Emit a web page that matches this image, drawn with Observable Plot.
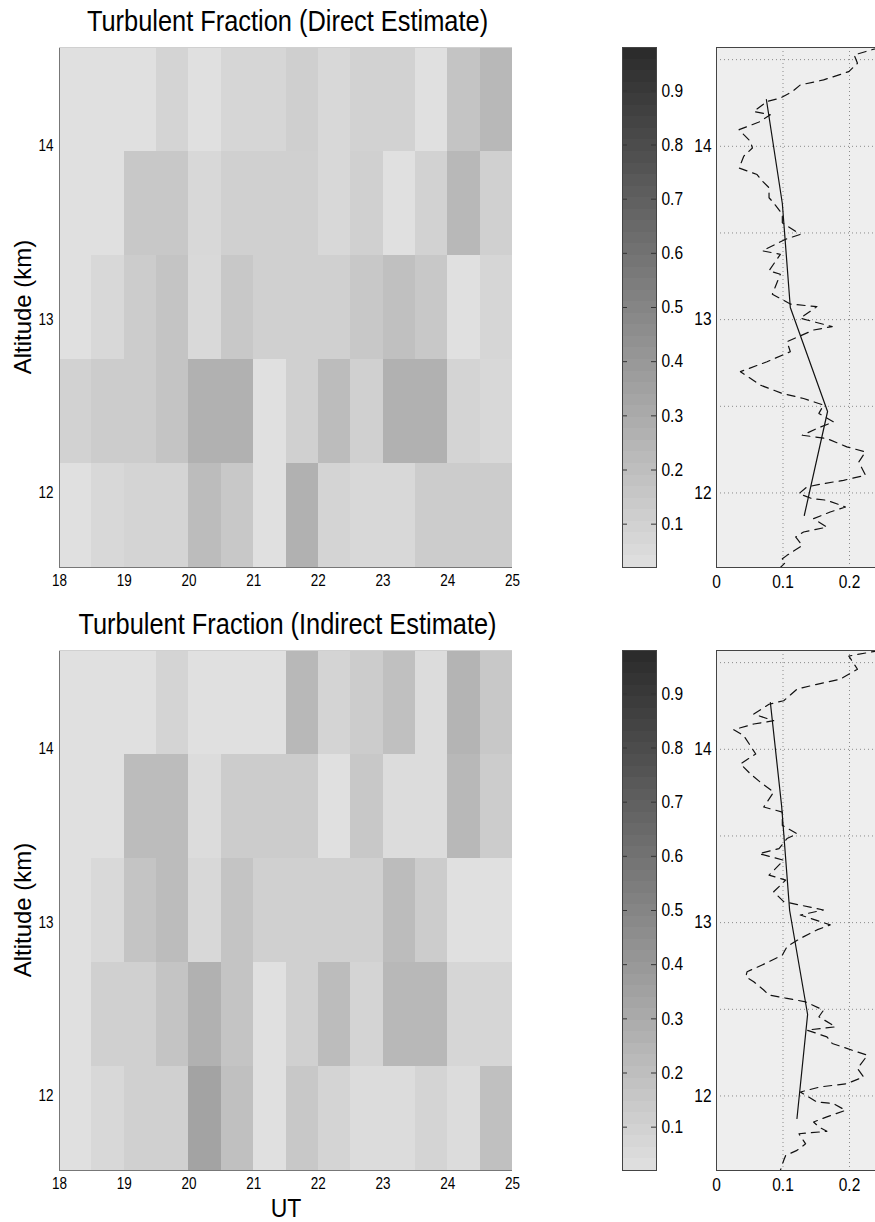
<!DOCTYPE html>
<html>
<head>
<meta charset="utf-8">
<script src="https://cdn.jsdelivr.net/npm/d3@7"></script>
<script src="https://cdn.jsdelivr.net/npm/@observablehq/plot@0.6"></script>
<style>
  html, body { margin: 0; padding: 0; background: #fff; }
  #root { position: relative; width: 875px; height: 1222px; overflow: hidden; background: #fff;
          font-family: "Liberation Sans", Arial, Helvetica, sans-serif; color: #000; }
  .title { position: absolute; left: 0; width: 575px; text-align: center; font-size: 25.4px; line-height: 1;
           white-space: nowrap; transform: scaleY(1.18); transform-origin: 50% 21.5px; }
  .ylab { position: absolute; font-size: 24px; line-height: 1; white-space: nowrap;
          transform: translate(-50%, -50%) rotate(-90deg); }
  .xlab { position: absolute; left: 0; width: 572px; text-align: center; font-size: 23px; line-height: 1;
          transform: scaleY(1.15); transform-origin: 50% 19.5px; }
</style>
</head>
<body>
<div id="root"></div>
<script>
// ---------------- data ----------------
const titles = ["Turbulent Fraction (Direct Estimate)", "Turbulent Fraction (Indirect Estimate)"];
const yLabel = "Altitude (km)";
const xLabel = "UT";

// heat-map bins: UT bin starts (0.5 h wide), altitude bin bottoms (0.6 km tall), top row first
const utStart = [18, 18.5, 19, 19.5, 20, 20.5, 21, 21.5, 22, 22.5, 23, 23.5, 24, 24.5];
const utBinWidth = 0.5;
const altBottom = [13.97, 13.37, 12.77, 12.17, 11.57];
const altBinHeight = 0.6;
const altRange = [11.57, 14.57];
const utRange = [18, 25];

const utTicks = [18, 19, 20, 21, 22, 23, 24, 25];
const altTicks = [12, 13, 14];
const altGrid = [12, 12.5, 13, 13.5, 14, 14.5];
const fracTicks = [0.1, 0.2, 0.3, 0.4, 0.5, 0.6, 0.7, 0.8, 0.9];
const colorRange = [0.02, 0.98];
const colorLevels = 45;
const profileXTicks = [0, 0.1, 0.2];
const profileGridX = [0.1, 0.2];
const profileXRange = [0, 0.3];

// turbulent fraction per cell (rows: top altitude bin first; columns: UT bins)
const directRows = [
  [0.02, 0.02, 0.02, 0.084, 0.02, 0.074, 0.074, 0.11, 0.063, 0.095, 0.095, 0.02, 0.168, 0.23],
  [0.02, 0.02, 0.147, 0.147, 0.063, 0.105, 0.105, 0.105, 0.063, 0.105, 0.02, 0.095, 0.23, 0.105],
  [0.02, 0.063, 0.126, 0.168, 0.058, 0.147, 0.105, 0.105, 0.105, 0.147, 0.19, 0.147, 0.02, 0.074],
  [0.095, 0.126, 0.126, 0.168, 0.27, 0.27, 0.02, 0.105, 0.21, 0.105, 0.27, 0.27, 0.084, 0.063],
  [0.02, 0.063, 0.084, 0.084, 0.21, 0.147, 0.02, 0.27, 0.084, 0.063, 0.063, 0.126, 0.126, 0.126]
];
const indirectRows = [
  [0.02, 0.02, 0.02, 0.084, 0.02, 0.02, 0.02, 0.23, 0.084, 0.126, 0.19, 0.042, 0.25, 0.147],
  [0.02, 0.02, 0.21, 0.21, 0.042, 0.126, 0.126, 0.126, 0.02, 0.147, 0.042, 0.042, 0.23, 0.126],
  [0.02, 0.058, 0.168, 0.21, 0.063, 0.168, 0.105, 0.105, 0.105, 0.105, 0.21, 0.126, 0.02, 0.02],
  [0.02, 0.105, 0.105, 0.168, 0.27, 0.168, 0.02, 0.105, 0.21, 0.084, 0.23, 0.23, 0.074, 0.074],
  [0.02, 0.063, 0.105, 0.105, 0.34, 0.19, 0.02, 0.147, 0.084, 0.042, 0.042, 0.084, 0.042, 0.19]
];

// time-mean profiles (solid line) at altitude-bin centres
const rowCenter = [14.27, 13.67, 13.07, 12.47, 11.87];
const directMean = [0.075, 0.099, 0.111, 0.167, 0.132];
const indirectMean = [0.081, 0.098, 0.110, 0.137, 0.121];

// fine-resolution profiles (dashed line)
const directFineAlt = [14.57, 14.527, 14.479, 14.431, 14.383, 14.354, 14.316, 14.278, 14.259, 14.201, 14.182, 14.14, 14.096, 14.067, 14.029, 13.99, 13.943, 13.875, 13.837, 13.799, 13.761, 13.703, 13.674, 13.607, 13.559, 13.492, 13.464, 13.397, 13.377, 13.282, 13.262, 13.147, 13.09, 13.075, 13.008, 12.96, 12.94, 12.873, 12.815, 12.757, 12.7, 12.622, 12.574, 12.545, 12.507, 12.459, 12.41, 12.372, 12.333, 12.314, 12.266, 12.237, 12.179, 12.102, 12.073, 12.054, 12.035, 11.996, 11.967, 11.958, 11.919, 11.89, 11.852, 11.803, 11.775, 11.746, 11.697, 11.64, 11.62, 11.6, 11.57];
const directFineFrac = [0.245, 0.207, 0.212, 0.199, 0.161, 0.126, 0.114, 0.096, 0.076, 0.056, 0.081, 0.064, 0.034, 0.041, 0.051, 0.054, 0.041, 0.034, 0.061, 0.069, 0.079, 0.079, 0.086, 0.099, 0.099, 0.126, 0.104, 0.069, 0.096, 0.079, 0.096, 0.084, 0.111, 0.151, 0.126, 0.174, 0.146, 0.106, 0.111, 0.076, 0.036, 0.066, 0.099, 0.131, 0.161, 0.154, 0.176, 0.151, 0.129, 0.166, 0.196, 0.224, 0.214, 0.224, 0.191, 0.161, 0.136, 0.124, 0.144, 0.166, 0.194, 0.171, 0.146, 0.166, 0.131, 0.119, 0.129, 0.106, 0.099, 0.104, 0.096];
const indirectFineAlt = [14.57, 14.538, 14.462, 14.404, 14.375, 14.347, 14.28, 14.26, 14.203, 14.165, 14.146, 14.113, 14.079, 13.973, 13.916, 13.858, 13.81, 13.753, 13.667, 13.638, 13.561, 13.513, 13.485, 13.427, 13.398, 13.36, 13.274, 13.245, 13.178, 13.121, 13.073, 13.044, 12.987, 12.958, 12.909, 12.861, 12.813, 12.765, 12.717, 12.688, 12.659, 12.611, 12.582, 12.563, 12.543, 12.495, 12.457, 12.399, 12.38, 12.341, 12.303, 12.264, 12.235, 12.158, 12.11, 12.071, 12.052, 12.023, 11.965, 11.956, 11.917, 11.879, 11.85, 11.821, 11.796, 11.782, 11.724, 11.686, 11.657, 11.628, 11.57];
const indirectFineFrac = [0.245, 0.199, 0.212, 0.186, 0.151, 0.121, 0.101, 0.079, 0.056, 0.086, 0.056, 0.026, 0.041, 0.059, 0.036, 0.051, 0.066, 0.086, 0.071, 0.099, 0.099, 0.121, 0.106, 0.094, 0.064, 0.101, 0.079, 0.104, 0.086, 0.101, 0.161, 0.126, 0.171, 0.151, 0.126, 0.106, 0.099, 0.074, 0.046, 0.044, 0.056, 0.071, 0.079, 0.106, 0.134, 0.161, 0.154, 0.179, 0.136, 0.166, 0.174, 0.204, 0.227, 0.212, 0.221, 0.196, 0.156, 0.126, 0.151, 0.176, 0.194, 0.166, 0.146, 0.154, 0.166, 0.124, 0.134, 0.121, 0.104, 0.101, 0.096];

// ---------------- drawing ----------------
const FONT = '"Liberation Sans", Arial, Helvetica, sans-serif';
const colorScale = {type: "linear", domain: colorRange, range: ["#e0e0e0", "#2a2a2a"], interpolate: "rgb"};
const baseStyle = size => ({fontFamily: FONT, fontSize: size + "px", color: "#000", background: "transparent", overflow: "visible"});
const intFmt = d3.format("d");
const root = document.getElementById("root");

// slight vertical stretch of tick labels (the original glyphs are taller than wide)
function stretchText(svg, stretch) {
  svg.querySelectorAll("text").forEach(t => {
    const tr = t.getAttribute("transform");
    if (tr) t.setAttribute("transform", `${tr} scale(1,${stretch})`);
  });
  return svg;
}

function place(node, left, top) {
  node.style.position = "absolute";
  node.style.left = left + "px";
  node.style.top = top + "px";
  node.style.maxWidth = "none";
  root.appendChild(node);
}

function heatmap(rows) {
  const cells = [];
  rows.forEach((row, i) => row.forEach((v, j) => cells.push({
    x1: utStart[j], x2: utStart[j] + utBinWidth, y1: altBottom[i], y2: altBottom[i] + altBinHeight, v
  })));
  return stretchText(Plot.plot({
    width: 560, height: 570, marginLeft: 59, marginRight: 48, marginTop: 10, marginBottom: 40,
    style: baseStyle(13.5),
    x: {domain: utRange},
    y: {domain: altRange},
    color: colorScale,
    marks: [
      Plot.rect(cells, {x1: "x1", x2: "x2", y1: "y1", y2: "y2", fill: "v", shapeRendering: "crispEdges"}),
      Plot.ruleX([utRange[0]], {stroke: "#777"}),
      Plot.ruleY([altRange[0]], {stroke: "#777"}),
      Plot.ruleY([altRange[1]], {stroke: "#d0d0d0"}),
      Plot.axisX({ticks: utTicks, tickSize: 0, tickPadding: 7, label: null, tickFormat: intFmt}),
      Plot.axisY({ticks: altTicks, tickSize: 0, tickPadding: 6, label: null, tickFormat: intFmt})
    ]
  }), 1.2);
}

function colorbar() {
  const [lo, hi] = colorRange;
  const bands = d3.range(colorLevels).map(i => ({
    y1: lo + (hi - lo) * i / colorLevels,
    y2: lo + (hi - lo) * (i + 1) / colorLevels,
    v: lo + (hi - lo) * (i + 0.5) / colorLevels
  }));
  return stretchText(Plot.plot({
    width: 100, height: 570, marginLeft: 22, marginRight: 44, marginTop: 10, marginBottom: 40,
    style: baseStyle(15.5),
    y: {domain: colorRange},
    color: colorScale,
    marks: [
      Plot.rect(bands, {y1: "y1", y2: "y2", fill: "v", shapeRendering: "crispEdges"}),
      Plot.tickY(fracTicks, {y: d => d, insetRight: 29, stroke: "#333"}),
      Plot.tickY(fracTicks, {y: d => d, insetLeft: 29, stroke: "#333"}),
      Plot.frame({stroke: "#444"}),
      Plot.axisY({anchor: "right", ticks: fracTicks, tickSize: 0, tickPadding: 5, label: null,
                  tickFormat: d => d.toFixed(1)})
    ]
  }), 1.15);
}

function profile(fineAlt, fineFrac, meanFrac) {
  const fine = fineAlt.map((a, i) => ({alt: a, frac: fineFrac[i]}));
  const mean = rowCenter.map((a, i) => ({alt: a, frac: meanFrac[i]}));
  return stretchText(Plot.plot({
    width: 245, height: 570, marginLeft: 36, marginRight: 9.5, marginTop: 10, marginBottom: 40,
    style: baseStyle(15.5),
    x: {domain: profileXRange},
    y: {domain: altRange},
    marks: [
      Plot.frame({fill: "#eeeeee"}),
      Plot.ruleX(profileGridX, {stroke: "#8a8a8a", strokeDasharray: "1,3"}),
      Plot.ruleY(altGrid, {stroke: "#8a8a8a", strokeDasharray: "1,3"}),
      Plot.line(fine, {x: "frac", y: "alt", stroke: "#111", strokeWidth: 1.2, strokeDasharray: "8,6", clip: true}),
      Plot.line(mean, {x: "frac", y: "alt", stroke: "#111", strokeWidth: 1.2}),
      Plot.frame({stroke: "#444"}),
      Plot.axisX({ticks: profileXTicks, tickSize: 0, tickPadding: 8, label: null,
                  tickFormat: d => d === 0 ? "0" : d.toFixed(1)}),
      Plot.axisY({ticks: altTicks, tickSize: 0, tickPadding: 5, label: null, tickFormat: intFmt})
    ]
  }), 1.15);
}

function addText(cls, text, css) {
  const d = document.createElement("div");
  d.className = cls;
  d.textContent = text;
  Object.assign(d.style, css);
  root.appendChild(d);
}

const panels = [
  {top: 47, rows: directRows, fineAlt: directFineAlt, fineFrac: directFineFrac, mean: directMean, title: titles[0]},
  {top: 650, rows: indirectRows, fineAlt: indirectFineAlt, fineFrac: indirectFineFrac, mean: indirectMean, title: titles[1]}
];

panels.forEach(p => {
  place(heatmap(p.rows), 0, p.top - 10);
  place(colorbar(), 600, p.top - 10);
  place(profile(p.fineAlt, p.fineFrac, p.mean), 680, p.top - 10);
  addText("title", p.title, {top: (p.top - 16 - 21.5) + "px"});
  addText("ylab", yLabel, {left: "23px", top: (p.top + 260) + "px"});
});
addText("xlab", xLabel, {top: (1217 - 19.5) + "px"});
</script>
</body>
</html>
